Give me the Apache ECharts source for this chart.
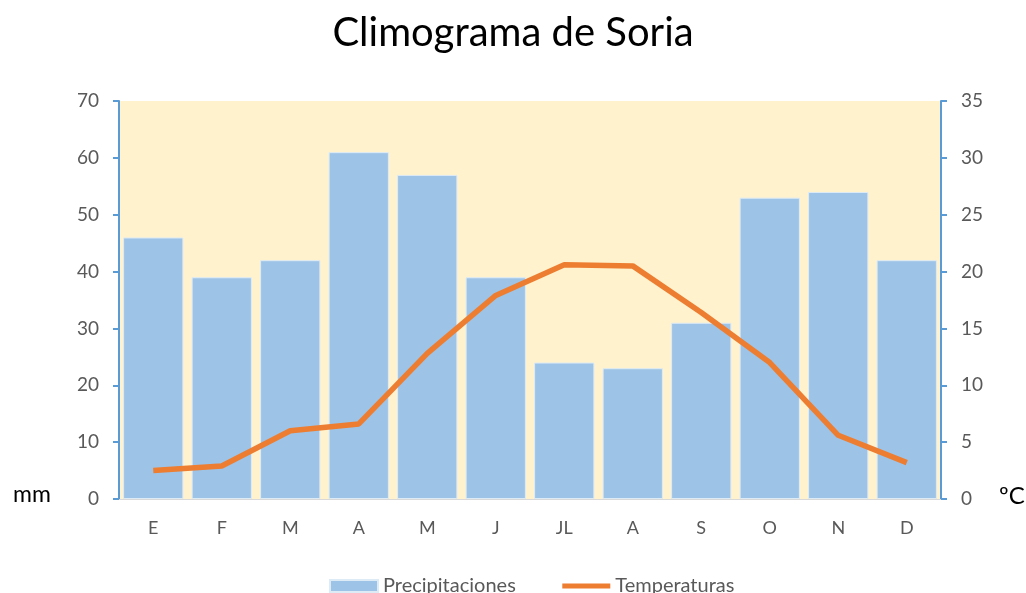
<!DOCTYPE html>
<html>
<head>
<meta charset="utf-8">
<script src="https://cdn.jsdelivr.net/npm/echarts@6/dist/echarts.min.js"></script>
<style>
  html, body { margin: 0; padding: 0; background: #fff; }
  #chart { width: 1026px; height: 593px; }
</style>
</head>
<body>
<div id="chart"></div>
<script>
const months = ['E', 'F', 'M', 'A', 'M', 'J', 'JL', 'A', 'S', 'O', 'N', 'D'];
const precipitaciones = [46, 39, 42, 61, 57, 39, 24, 23, 31, 53, 54, 42];
const temperaturas = [2.5, 2.9, 6.0, 6.6, 12.8, 17.9, 20.6, 20.5, 16.4, 12.0, 5.6, 3.2];

const font = 'Lato, "Open Sans", sans-serif';
const chart = echarts.init(document.getElementById('chart'));

chart.setOption({
  animation: false,
  textStyle: { fontFamily: font },
  title: {
    text: 'Climograma de Soria',
    left: 'center',
    top: 8,
    textStyle: { fontSize: 40, fontWeight: 'normal', color: '#000', fontFamily: font },
  },
  grid: {
    left: 119, right: 85, top: 101, bottom: 94,
    show: true, backgroundColor: '#FFF2CC', borderWidth: 0,
  },
  legend: {
    bottom: -8,
    left: 324,
    itemGap: 44,
    itemWidth: 48,
    itemHeight: 12,
    textStyle: { fontSize: 20, color: '#595959', fontFamily: font },
    data: [
      { name: 'Precipitaciones', icon: 'rect' },
      { name: 'Temperaturas', itemStyle: { opacity: 0 }, lineStyle: { width: 5, color: '#ED7D31' } },
    ],
  },
  xAxis: {
    type: 'category',
    data: months,
    axisLine: { lineStyle: { color: '#D9D9D9', width: 1 } },
    axisTick: { show: false },
    axisLabel: { color: '#595959', fontSize: 18, margin: 20 },
  },
  yAxis: [
    {
      type: 'value', min: 0, max: 70, interval: 10,
      axisLine: { show: true, lineStyle: { color: '#5B9BD5', width: 2 } },
      axisTick: { show: true, length: 6, lineStyle: { color: '#5B9BD5', width: 2 } },
      splitLine: { show: false },
      axisLabel: { color: '#595959', fontSize: 19, margin: 20 },
    },
    {
      type: 'value', min: 0, max: 35, interval: 5,
      position: 'right',
      axisLine: { show: true, lineStyle: { color: '#5B9BD5', width: 2 } },
      axisTick: { show: true, length: 6, lineStyle: { color: '#5B9BD5', width: 2 } },
      splitLine: { show: false },
      axisLabel: { color: '#595959', fontSize: 19, margin: 20 },
    },
  ],
  graphic: [
    { type: 'text', left: 13, top: 483, style: { text: 'mm', fontSize: 23, fill: '#000', fontFamily: font } },
    { type: 'text', left: 999, top: 484, style: { text: 'ºC', fontSize: 24, fill: '#000', fontFamily: font } },
  ],
  series: [
    {
      name: 'Precipitaciones',
      type: 'bar',
      data: precipitaciones,
      barCategoryGap: '12%',
      itemStyle: { color: '#9DC3E6', borderColor: '#DDEBF7', borderWidth: 1 },
    },
    {
      name: 'Temperaturas',
      type: 'line',
      yAxisIndex: 1,
      data: temperaturas,
      symbol: 'none',
      lineStyle: { color: '#ED7D31', width: 5.5 },
      itemStyle: { color: '#ED7D31' },
    },
  ],
});
</script>
</body>
</html>
